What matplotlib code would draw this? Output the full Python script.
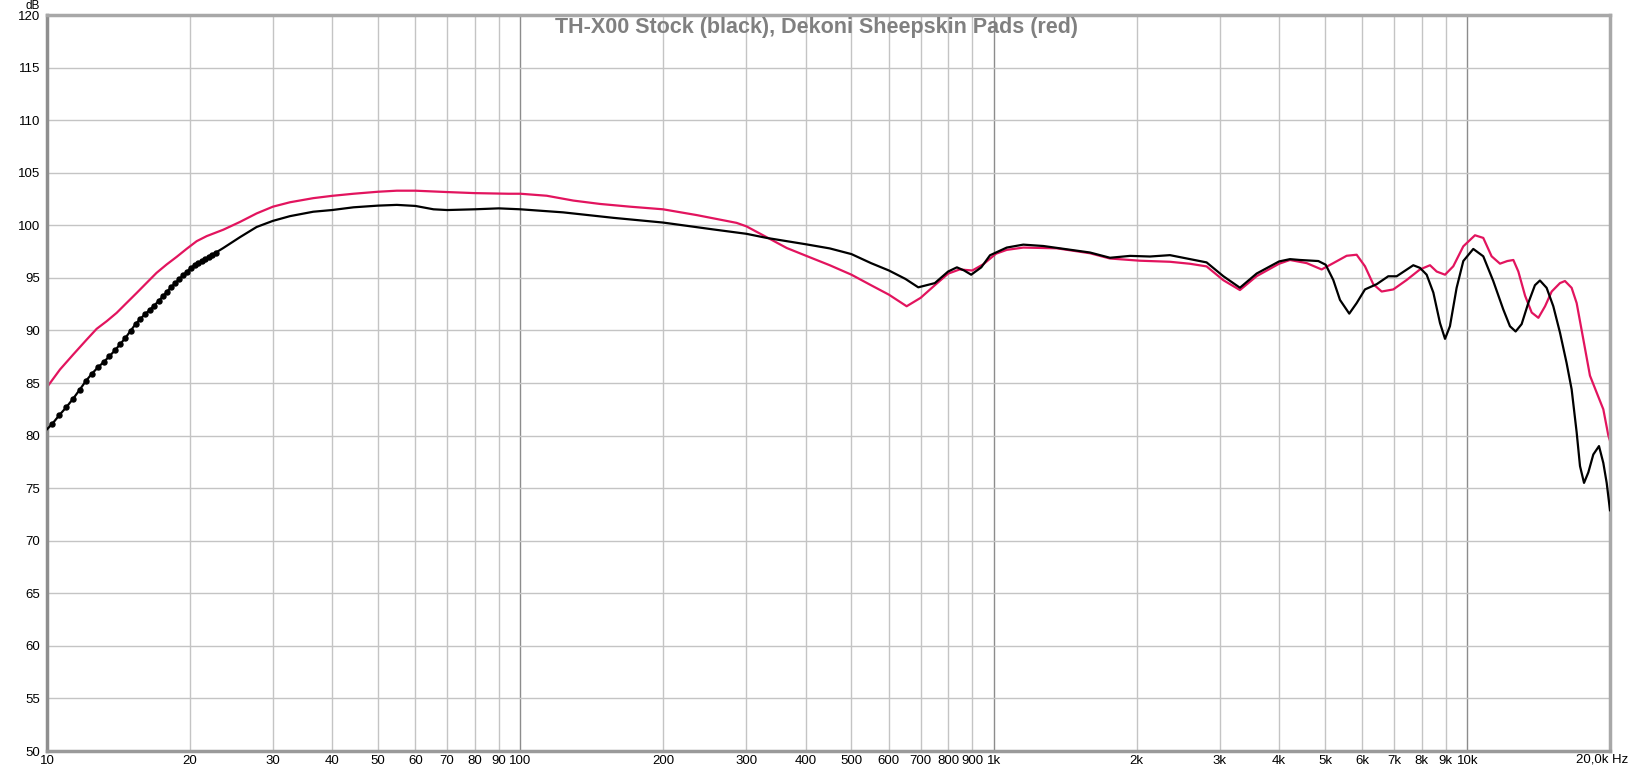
import numpy as np
import matplotlib
matplotlib.use('Agg')
import matplotlib.pyplot as plt
from matplotlib.ticker import FixedLocator, NullFormatter, NullLocator

plt.rcParams['font.family'] = ['Liberation Sans', 'DejaVu Sans']

# Black curve (TH-X00 stock), low end has visible sample dots
black_dot_freq = [10.254, 10.620, 10.986, 11.353, 11.719, 12.085, 12.451, 12.817,
                  13.184, 13.550, 13.916, 14.282, 14.648, 15.015, 15.381, 15.747,
                  16.113, 16.479, 16.846, 17.212, 17.578, 17.944, 18.311, 18.677,
                  19.043, 19.409, 19.775, 20.142, 20.508, 20.874, 21.240, 21.606,
                  21.973, 22.339, 22.705]
black_dot_db = [81.1, 81.95, 82.7, 83.5, 84.35, 85.2, 85.9, 86.5,
                87.0, 87.55, 88.1, 88.7, 89.3, 89.95, 90.6, 91.1,
                91.55, 91.95, 92.37, 92.8, 93.25, 93.7, 94.15, 94.5,
                94.9, 95.25, 95.6, 95.95, 96.2, 96.4, 96.6, 96.8,
                97.0, 97.2, 97.4]

black_freq = [10.0, 23.57, 25.56, 27.72, 30, 32.6, 36.5, 40, 44.4, 50, 54.8, 60, 65.5, 70,
              80, 90, 100, 123, 157, 200, 255, 300, 331, 400, 450, 500, 550, 600,
              650, 692, 750, 800, 835, 865, 895, 940, 981, 1064, 1153, 1271, 1424,
              1595, 1758, 1938, 2135, 2353, 2594, 2812, 3050, 3307, 3587, 4000,
              4218, 4430, 4842, 5018, 5207, 5380, 5628, 5834, 6075, 6432, 6803,
              7087, 7684, 7937, 8200, 8471, 8750, 8966, 9183, 9486, 9800, 10287,
              10799, 11336, 11901, 12295, 12639, 13014, 13440, 13883, 14225, 14695,
              15180, 15680, 16195, 16596, 17007, 17285, 17627, 18000, 18440, 18957,
              19360, 19680, 20000]
black_db = [80.6, 97.84, 98.87, 99.84, 100.42, 100.87, 101.29, 101.45, 101.71, 101.87,
            101.94, 101.84, 101.52, 101.45, 101.52, 101.61, 101.52, 101.23, 100.71,
            100.26, 99.61, 99.19, 98.8, 98.2, 97.8, 97.26, 96.4, 95.7, 94.9, 94.1,
            94.5, 95.6, 96.0, 95.7, 95.3, 96.0, 97.15, 97.88, 98.16, 98.03, 97.72,
            97.41, 96.91, 97.09, 97.03, 97.16, 96.78, 96.47, 95.16, 94.06, 95.41,
            96.56, 96.78, 96.7, 96.6, 96.25, 94.8, 92.9, 91.6, 92.6, 93.9, 94.4,
            95.15, 95.15, 96.2, 95.95, 95.3, 93.6, 90.7, 89.2, 90.4, 94.05, 96.6,
            97.75, 97.05, 94.7, 92.0, 90.4, 89.9, 90.6, 92.6, 94.3, 94.75, 94.05,
            92.3, 89.8, 86.9, 84.4, 80.3, 77.1, 75.5, 76.5, 78.2, 79.0,
            77.4, 75.5, 72.9]

# Red curve (Dekoni sheepskin pads)
red_freq = [10.0, 10.65, 11.36, 12.13, 12.73, 13.37, 14.03, 14.73, 15.47, 16.23, 17.04,
            17.89, 18.79, 19.72, 20.71, 21.74, 23.57, 25.56, 27.72, 30, 32.6, 36.5,
            40, 44.4, 50, 54.8, 60, 70, 80, 94.3, 100, 113.6, 129.3, 147.2, 170.3,
            200, 235.6, 286, 300, 331, 365, 408.7, 450, 500, 550, 600, 654, 700,
            750, 800, 846, 900, 950, 1010, 1064, 1153, 1357, 1595, 1758, 2034,
            2353, 2594, 2812, 3050, 3307, 3587, 4000, 4218, 4576, 4920, 5207,
            5557, 5834, 6075, 6324, 6589, 6972, 7441, 7937, 8335, 8610, 8966,
            9333, 9800, 10372, 10799, 11246, 11713, 12140, 12500, 12808, 13234,
            13668, 14118, 14584, 15061, 15680, 16065, 16596, 17007, 17567, 18143,
            18740, 19360, 19840, 20000]
red_db = [84.6, 86.28, 87.71, 89.13, 90.15, 90.88, 91.67, 92.62, 93.57, 94.52, 95.48,
          96.27, 97.0, 97.76, 98.49, 98.97, 99.58, 100.32, 101.13, 101.77, 102.19,
          102.58, 102.8, 103.0, 103.19, 103.29, 103.29, 103.16, 103.06, 103.0, 103.0,
          102.81, 102.35, 102.03, 101.77, 101.52, 100.97, 100.23, 99.9, 98.87, 97.84,
          96.95, 96.2, 95.3, 94.3, 93.4, 92.3, 93.1, 94.3, 95.4, 95.8, 95.7, 96.3,
          97.3, 97.66, 97.88, 97.81, 97.34, 96.84, 96.63, 96.53, 96.34, 96.09,
          94.78, 93.84, 95.16, 96.34, 96.7, 96.4, 95.8, 96.4, 97.1, 97.2, 96.1,
          94.4, 93.7, 93.9, 94.8, 95.8, 96.2, 95.6, 95.3, 96.1, 98.0, 99.05, 98.8,
          97.05, 96.35, 96.6, 96.7, 95.6, 93.3, 91.7, 91.2, 92.3, 93.7, 94.5,
          94.7, 94.05, 92.6, 89.15, 85.7, 84.1, 82.5, 80.0, 79.5]

minor_freqs = [20, 30, 40, 50, 60, 70, 80, 90, 200, 300, 400, 500, 600, 700, 800, 900,
               2000, 3000, 4000, 5000, 6000, 7000, 8000, 9000]
decade_freqs = [100, 1000, 10000]
x_tick_freqs = [10, 20, 30, 40, 50, 60, 70, 80, 90, 100, 200, 300, 400, 500, 600, 700,
                800, 900, 1000, 2000, 3000, 4000, 5000, 6000, 7000, 8000, 9000, 10000]
x_tick_labels = ['10', '20', '30', '40', '50', '60', '70', '80', '90', '100', '200', '300',
                 '400', '500', '600', '700', '800', '900', '1k', '2k', '3k', '4k', '5k',
                 '6k', '7k', '8k', '9k', '10k']
y_ticks = list(range(50, 121, 5))

title = 'TH-X00 Stock (black), Dekoni Sheepskin Pads (red)'

fig = plt.figure(figsize=(16.33, 7.72), dpi=100)
ax = fig.add_axes([47 / 1633, 1 - 751 / 772, (1610 - 47) / 1633, (751 - 15) / 772])

ax.set_xscale('log')
ax.set_xlim(10, 20000)
ax.set_ylim(50, 120)

# grid
for f in minor_freqs:
    ax.axvline(f, color='#c4c4c4', lw=1.0, zorder=1)
for f in decade_freqs:
    ax.axvline(f, color='#8c8c8c', lw=1.0, zorder=1)
for v in y_ticks:
    ax.axhline(v, color='#c4c4c4', lw=1.0, zorder=1)

# curves
bx = black_dot_freq + black_freq[1:]
by = black_dot_db + black_db[1:]
ax.plot([black_freq[0]] + bx, [black_db[0]] + by, color='black', lw=1.6, zorder=3)
ax.plot(black_dot_freq, black_dot_db, 'o', color='black', ms=3.6, zorder=4)
ax.plot(red_freq, red_db, color='#e2145e', lw=1.6, zorder=2)

ax.xaxis.set_major_locator(FixedLocator(x_tick_freqs))
ax.xaxis.set_minor_locator(NullLocator())
ax.set_xticklabels(x_tick_labels)
ax.xaxis.set_minor_formatter(NullFormatter())
ax.set_yticks(y_ticks)
ax.set_yticklabels([str(v) for v in y_ticks])
ax.tick_params(axis='both', length=0, labelsize=9.5, colors='black')
ax.tick_params(axis='x', pad=3)
ax.tick_params(axis='y', pad=5)

for side in ['left', 'bottom', 'top', 'right']:
    ax.spines[side].set_color('#a8a8a8')
    ax.spines[side].set_linewidth(2.5)
ax.spines['left'].set_color('#8f8f8f')
ax.spines['bottom'].set_color('#9a9a9a')

ax.annotate('20,0k Hz', xy=(1, 0), xycoords='axes fraction',
            xytext=(18, -3), textcoords='offset pixels',
            ha='right', va='top', fontsize=9.5)

fig.text(33 / 1633, 1.0, 'dB', ha='center', va='top', fontsize=8.5)

fig.text(0.5, 1 - 27 / 772, title, ha='center', va='center',
         fontsize=15.5, fontweight='bold', color='#808080', zorder=10)

fig.savefig('out.png', dpi=100, facecolor='white')
